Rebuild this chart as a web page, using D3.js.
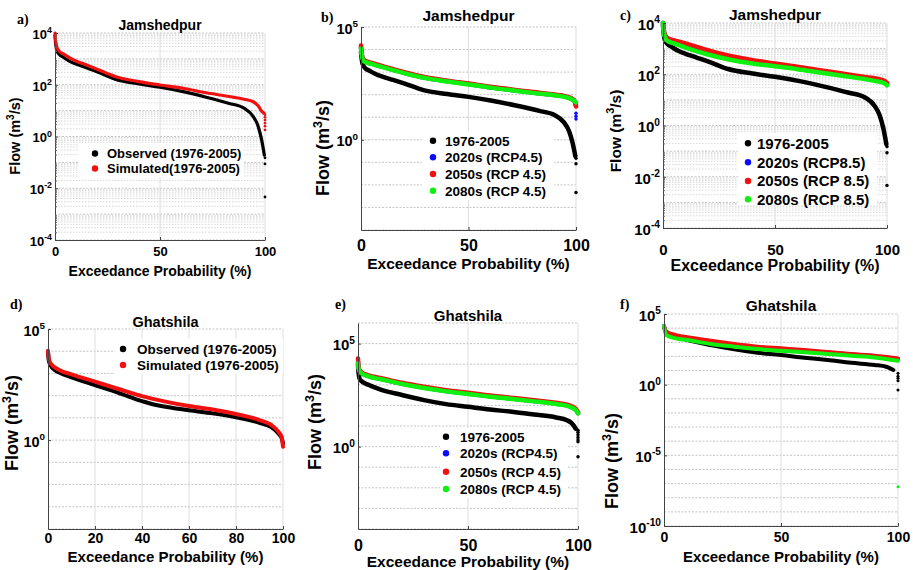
<!DOCTYPE html>
<html><head><meta charset="utf-8">
<script src="https://cdn.jsdelivr.net/npm/d3@7"></script>
<style>
body{margin:0;background:#fff;}
svg{display:block;}
</style></head><body>
<svg id="chart" width="913" height="570"></svg>
<script>
// ---------------- DATA ----------------
// Jamshedpur, observed / simulated 1976-2005 (panels a, b, c)
const probJamObs = [0, 0.3, 0.8, 2, 4, 7, 10, 15, 20, 29, 40, 50, 61, 72, 83, 90, 94.4, 96.8, 98.4, 99.7];
const flowJamObs = [8000, 4000, 2200, 1500, 1150, 800, 630, 450, 320, 160, 107, 80, 54, 33, 19, 12.6, 5.9, 2.4, 0.74, 0.19];
const flowJamObsAt100 = [0.15, 0.087, 0.0046];
const probJamSim = [0, 0.3, 0.8, 2, 4, 7, 10, 15, 20, 29, 40, 50, 61, 72, 83, 90, 94.4, 96.8, 98.4, 99.5];
const flowJamSim = [10000, 5000, 2950, 2000, 1550, 1100, 830, 580, 400, 205, 132, 98, 73, 49, 35, 27.5, 22, 15, 9.5, 8];
const flowJamSimAt100 = [7, 5.5, 4.3, 3.3, 2.5, 1.8];

// Jamshedpur future (panels b, c)
const probFuture = [0, 0.3, 1, 2, 5, 10, 20, 30, 40, 50, 60, 70, 80, 90, 95, 99, 100];
const jam45_2020 = [12000, 6500, 3500, 2950, 2400, 1750, 940, 560, 400, 295, 212, 162, 124, 97, 82, 57, 35];
const jam45_2050 = [15000, 7000, 3700, 3100, 2550, 1850, 1000, 600, 420, 310, 222, 170, 130, 101, 85, 60, 30];
const jam45_2080 = [11000, 6000, 3300, 2800, 2300, 1650, 900, 540, 385, 285, 205, 157, 120, 94, 79, 55, 45];
const jam45_2020At100 = [15, 11, 8.4];
const jam85_2020 = [10000, 5000, 3000, 2400, 1900, 1400, 720, 440, 320, 240, 178, 133, 98, 72, 61, 50, 42];
const jam85_2050 = [10000, 5500, 3300, 2600, 2100, 1600, 870, 515, 355, 263, 195, 145, 107, 79, 68, 55, 46];
const jam85_2080 = [10000, 4500, 2600, 2000, 1590, 1100, 590, 370, 263, 205, 158, 117, 87, 65, 54, 44, 37];

// Ghatshila observed / simulated (panel d)
const probGhaObs = [0, 0.3, 1, 3, 5, 10, 20, 30, 40, 45, 50, 60, 70, 80, 90, 95, 98, 99.5, 100];
const flowGhaObs = [9500, 4000, 2400, 1400, 1070, 670, 300, 135, 57, 40, 32, 22, 16, 10.6, 6.0, 3.8, 2.0, 1.2, 0.72];
const probGhaSim = [0, 0.3, 1, 5, 10, 20, 30, 40, 50, 60, 70, 80, 90, 95, 98, 99.5, 100];
const flowGhaSim = [10500, 5000, 2900, 1400, 910, 425, 200, 96, 54, 34, 24, 15, 8, 4.8, 2.4, 1.3, 0.5];

// Ghatshila RCP4.5 (panel e)
const probGhaBaseE = [0, 0.3, 1, 5, 10, 20, 30, 40, 50, 60, 70, 80, 90, 95, 97, 99];
const flowGhaBaseE = [9100, 3500, 1700, 970, 600, 320, 180, 115, 85, 63, 49, 36, 26, 19, 14, 7.4];
const flowGhaBaseEAt100 = [6.3, 5, 3.8, 2.8, 2.1, 1.7, 0.32];
const probGhaFutE = [0, 0.3, 1, 5, 10, 20, 30, 40, 50, 60, 70, 80, 90, 95, 99, 100];
const gha45_2020 = [12000, 6300, 4200, 2600, 2000, 1150, 740, 505, 380, 280, 215, 165, 123, 100, 62, 43];
const gha45_2050 = [19000, 7000, 4500, 2800, 2150, 1250, 800, 545, 410, 300, 232, 178, 133, 108, 67, 46];
const gha45_2080 = [11000, 6000, 4000, 2500, 1900, 1100, 700, 480, 360, 265, 205, 157, 117, 95, 59, 41];

// Ghatshila RCP8.5 (panel f)
const probGhaBaseF = [0, 1, 5, 10, 20, 30, 40, 50, 60, 70, 80, 90, 95, 98];
const flowGhaBaseF = [12600, 4300, 2500, 1450, 630, 316, 182, 126, 81, 55, 35, 25, 18.6, 11];
const flowGhaBaseFAt100 = [6.3, 4, 2.8, 1.9, 0.42];
const probGhaFutF = [0, 1, 5, 10, 20, 30, 40, 50, 60, 70, 80, 90, 100];
const gha85_2020 = [14000, 4500, 2700, 1900, 1000, 620, 430, 335, 255, 188, 137, 104, 66];
const gha85_2050 = [14000, 5600, 3200, 2240, 1290, 760, 490, 370, 280, 204, 148, 112, 72];
const gha85_2080 = [14000, 3160, 1900, 1450, 760, 490, 330, 250, 195, 148, 112, 85, 50];
const gha85_2080At100 = [6e-8];

// tick labels / texts
const xTicks3 = [0, 50, 100];
const xTicks6 = [0, 20, 40, 60, 80, 100];
const legObsSimA = ["Observed (1976-2005)", "Simulated(1976-2005)"];
const legObsSimD = ["Observed (1976-2005)", "Simulated (1976-2005)"];
const legRcp45 = ["1976-2005", "2020s (RCP4.5)", "2050s (RCP 4.5)", "2080s (RCP 4.5)"];
const legRcp85 = ["1976-2005", "2020s (RCP8.5)", "2050s (RCP 8.5)", "2080s (RCP 8.5)"];

// ---------------- STYLE / LAYOUT ----------------
const BLACK = "#000", BLUE = "#0a0aff", RED = "#f01010", GREEN = "#10f010";
const FONT = 'Arial, "Liberation Sans", Helvetica, sans-serif';
const SERIF = '"Times New Roman", "Liberation Serif", serif';

const panels = [
  {letter:'a)', title:'Jamshedpur', x0:55, x1:265, y0:33, y1:240, ymin:-4, ymax:4, yLab:[4,2,0,-2,-4], xTicks:xTicks3, minor:true, lw:3.2,
   tickFs:13, xTickFs:13, xTickBase:256, xlabFs:14, xlabBase:276, ylabFs:14.5, ylabX:15, ylabY:136, titleFs:14, titleBase:30, letterX:17, letterBase:24,
   series:[{p:probJamObs, v:flowJamObs, c:BLACK, t:flowJamObsAt100},{p:probJamSim, v:flowJamSim, c:RED, t:flowJamSimAt100}],
   legend:{x:78, y:143, w:165, h:34, dotX:95, textX:107, rows:[153.5,168.5], fs:13, labels:legObsSimA, colors:[BLACK,RED]}},
  {letter:'b)', title:'Jamshedpur', x0:361, x1:576, y0:27, y1:230, ymin:-4, ymax:5, yLab:[5,0], xTicks:xTicks3, minor:false, lw:4.5,
   tickFs:14.5, xTickFs:16, xTickBase:251, xlabFs:15.5, xlabBase:269, ylabFs:18, ylabX:323, ylabY:148, titleFs:15.5, titleBase:21, letterX:321, letterBase:22,
   series:[{p:probJamObs, v:flowJamObs, c:BLACK, t:flowJamObsAt100},{p:probFuture, v:jam45_2020, c:BLUE, t:jam45_2020At100},{p:probFuture, v:jam45_2050, c:RED},{p:probFuture, v:jam45_2080, c:GREEN}],
   legend:{x:422, y:131, w:132, h:69, dotX:433, textX:445, rows:[140.7,157.3,174,190.7], fs:13.5, labels:legRcp45, colors:[BLACK,BLUE,RED,GREEN]}},
  {letter:'c)', title:'Jamshedpur', x0:663, x1:887, y0:23, y1:228, ymin:-4, ymax:4, yLab:[4,2,0,-2,-4], xTicks:xTicks3, minor:true, lw:4.5,
   tickFs:15, xTickFs:15, xTickBase:255, xlabFs:16, xlabBase:271, ylabFs:15.5, ylabX:615, ylabY:131, titleFs:15.5, titleBase:20, letterX:620, letterBase:20,
   series:[{p:probJamObs, v:flowJamObs, c:BLACK, t:flowJamObsAt100},{p:probFuture, v:jam85_2020, c:BLUE},{p:probFuture, v:jam85_2050, c:RED},{p:probFuture, v:jam85_2080, c:GREEN}],
   legend:{x:738, y:133, w:139, h:72, dotX:748, textX:757, rows:[143.3,162.3,181,199.3], fs:15, labels:legRcp85, colors:[BLACK,BLUE,RED,GREEN]}},
  {letter:'d)', title:'Ghatshila', x0:48, x1:283, y0:329, y1:529, ymin:-4, ymax:5, yLab:[5,0], xTicks:xTicks6, minor:false, lw:4,
   tickFs:14.5, xTickFs:14, xTickBase:543, xlabFs:15, xlabBase:562, ylabFs:18, ylabX:12, ylabY:423, titleFs:14.5, titleBase:327, letterX:10, letterBase:309,
   series:[{p:probGhaObs, v:flowGhaObs, c:BLACK},{p:probGhaSim, v:flowGhaSim, c:RED}],
   legend:{x:115, y:339, w:168, h:35, dotX:123, textX:137, rows:[349,365], fs:13.5, labels:legObsSimD, colors:[BLACK,RED]}},
  {letter:'e)', title:'Ghatshila', x0:358, x1:578, y0:323, y1:529, ymin:-4, ymax:6, yLab:[5,0], xTicks:xTicks3, minor:false, lw:4.5,
   tickFs:15, xTickFs:16, xTickBase:551, xlabFs:15.5, xlabBase:567, ylabFs:18, ylabX:315, ylabY:422, titleFs:15, titleBase:321, letterX:335, letterBase:309,
   series:[{p:probGhaBaseE, v:flowGhaBaseE, c:BLACK, t:flowGhaBaseEAt100},{p:probGhaFutE, v:gha45_2020, c:BLUE},{p:probGhaFutE, v:gha45_2050, c:RED},{p:probGhaFutE, v:gha45_2080, c:GREEN}],
   legend:{x:440, y:428, w:128, h:70, dotX:446, textX:460, rows:[436.7,453.3,471.7,489], fs:13.5, labels:legRcp45, colors:[BLACK,BLUE,RED,GREEN]}},
  {letter:'f)', title:'Ghatshila', x0:664, x1:898, y0:314, y1:526, ymin:-10, ymax:5, yLab:[5,0,-5,-10], xTicks:xTicks3, minor:false, lw:4,
   tickFs:15, xTickFs:14, xTickBase:542, xlabFs:15, xlabBase:562, ylabFs:18, ylabX:612, ylabY:461, titleFs:15.5, titleBase:311, letterX:620, letterBase:309,
   series:[{p:probGhaBaseF, v:flowGhaBaseF, c:BLACK, t:flowGhaBaseFAt100},{p:probGhaFutF, v:gha85_2020, c:BLUE},{p:probGhaFutF, v:gha85_2050, c:RED},{p:probGhaFutF, v:gha85_2080, c:GREEN, t:gha85_2080At100}],
   legend:null}
];

// ---------------- DRAW ----------------
const svg = d3.select('#chart');
svg.append('rect').attr('width',913).attr('height',570).attr('fill','#fff');

panels.forEach(P => {
  const g = svg.append('g');
  const x = d3.scaleLinear().domain([0,100]).range([P.x0,P.x1]);
  const y = d3.scaleLog().domain([Math.pow(10,P.ymin), Math.pow(10,P.ymax)]).range([P.y1,P.y0]);
  const decades = d3.range(P.ymin, P.ymax+1).map(k => Math.pow(10,k));

  // minor grid
  if (P.minor) {
    const minors = [];
    d3.range(P.ymin, P.ymax).forEach(k => { for (let m=2;m<=9;m++) minors.push(m*Math.pow(10,k)); });
    g.append('g').selectAll('line').data(minors).join('line')
      .attr('x1',P.x0).attr('x2',P.x1).attr('y1',d=>y(d)).attr('y2',d=>y(d))
      .attr('stroke','#cfcfcf').attr('stroke-width',0.8).attr('stroke-dasharray','1.5,1.5');
  }
  // major horizontal grid
  g.append('g').selectAll('line').data(decades).join('line')
    .attr('x1',P.x0).attr('x2',P.x1).attr('y1',d=>y(d)).attr('y2',d=>y(d))
    .attr('stroke','#bdbdbd').attr('stroke-width',0.9).attr('stroke-dasharray','2,1.5');
  // vertical grid
  g.append('g').selectAll('line').data(P.xTicks.filter(d=>d>0)).join('line')
    .attr('x1',d=>x(d)).attr('x2',d=>x(d)).attr('y1',P.y0).attr('y2',P.y1)
    .attr('stroke','#dadada').attr('stroke-width',0.9);

  // series
  const line = d3.line().x(d=>x(d[0])).y(d=>y(d[1])).curve(d3.curveMonotoneX);
  P.series.forEach(s => {
    const pts = s.p.map((p,i)=>[p, s.v[i]]);
    g.append('path').attr('d', line(pts)).attr('fill','none')
      .attr('stroke', s.c).attr('stroke-width', P.lw)
      .attr('stroke-linecap','round').attr('stroke-linejoin','round');
    if (s.t) {
      g.append('g').selectAll('circle').data(s.t).join('circle')
        .attr('cx', x(100)).attr('cy', d=>y(d)).attr('r', Math.max(1.4, P.lw*0.38)).attr('fill', s.c);
    }
  });

  // axes
  const xAxis = d3.axisBottom(x).tickValues(P.xTicks).tickSizeInner(-3).tickSizeOuter(0).tickFormat(d3.format('d'));
  const gx = g.append('g').attr('transform',`translate(0,${P.y1})`).call(xAxis);
  gx.attr('font-family',FONT).attr('font-size',P.xTickFs).attr('font-weight','bold');
  gx.select('.domain').attr('stroke','#444');
  gx.selectAll('.tick line').attr('stroke','#444');
  gx.selectAll('.tick text').attr('y', P.xTickBase - P.y1).attr('dy', null).attr('fill','#000');

  const yAxis = d3.axisLeft(y).tickValues(P.yLab.map(e=>Math.pow(10,e))).tickSizeInner(-3).tickSizeOuter(0).tickPadding(3);
  const gy = g.append('g').attr('transform',`translate(${P.x0},0)`).call(yAxis);
  gy.attr('font-family',FONT).attr('font-size',P.tickFs).attr('font-weight','bold');
  gy.select('.domain').attr('stroke','#444');
  gy.selectAll('.tick line').attr('stroke','#444');
  gy.selectAll('.tick text').each(function(d){
    const e = Math.round(Math.log10(d));
    const t = d3.select(this);
    t.text(null).attr('dy', P.tickFs*0.42).attr('fill','#000');
    t.append('tspan').text('10');
    t.append('tspan').attr('dy', -P.tickFs*0.45).attr('font-size', P.tickFs*0.68).text(e);
  });
  if (P.minor) {
    const minors = [];
    d3.range(P.ymin, P.ymax).forEach(k => { for (let m=2;m<=9;m++) minors.push(m*Math.pow(10,k)); });
    const ym = d3.axisLeft(y).tickValues(minors).tickSizeInner(-2).tickSizeOuter(0).tickFormat('');
    const gm = g.append('g').attr('transform',`translate(${P.x0},0)`).call(ym);
    gm.select('.domain').remove();
    gm.selectAll('.tick line').attr('stroke','#666');
  }

  // axis labels
  g.append('text').attr('x',(P.x0+P.x1)/2).attr('y',P.xlabBase).attr('text-anchor','middle')
    .attr('font-family',FONT).attr('font-weight','bold').attr('font-size',P.xlabFs).attr('fill','#000')
    .text('Exceedance Probability (%)');
  const yl = g.append('text').attr('transform',`translate(${P.ylabX},${P.ylabY}) rotate(-90)`)
    .attr('text-anchor','middle').attr('dy', P.ylabFs*0.36)
    .attr('font-family',FONT).attr('font-weight','bold').attr('font-size',P.ylabFs).attr('fill','#000');
  yl.append('tspan').text('Flow (m');
  yl.append('tspan').attr('dy', -P.ylabFs*0.4).attr('font-size', P.ylabFs*0.7).text('3');
  yl.append('tspan').attr('dy', P.ylabFs*0.4).text('/s)');

  // title & letter
  g.append('text').attr('x',(P.x0+P.x1)/2).attr('y',P.titleBase).attr('text-anchor','middle')
    .attr('font-family',FONT).attr('font-weight','bold').attr('font-size',P.titleFs).attr('fill','#000')
    .text(P.title);
  g.append('text').attr('x',P.letterX).attr('y',P.letterBase)
    .attr('font-family',SERIF).attr('font-weight','bold').attr('font-size',14).attr('fill','#000')
    .text(P.letter);

  // legend
  if (P.legend) {
    const L = P.legend;
    const lg = g.append('g');
    lg.append('rect').attr('x',L.x).attr('y',L.y).attr('width',L.w).attr('height',L.h).attr('fill','#fff');
    L.labels.forEach((lab,i) => {
      lg.append('circle').attr('cx',L.dotX).attr('cy',L.rows[i]).attr('r',3.2).attr('fill',L.colors[i]);
      lg.append('text').attr('x',L.textX).attr('y',L.rows[i]).attr('dy',L.fs*0.36)
        .attr('font-family',FONT).attr('font-weight','bold').attr('font-size',L.fs).attr('fill','#000')
        .text(lab);
    });
  }
});
</script>
</body></html>
